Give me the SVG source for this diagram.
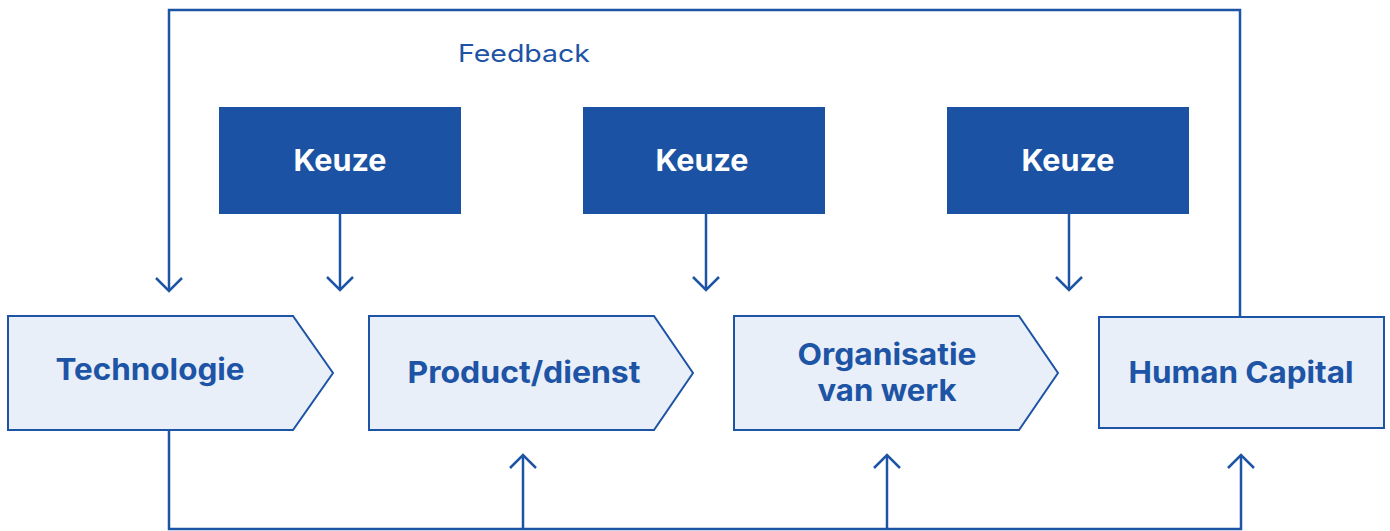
<svg xmlns="http://www.w3.org/2000/svg" width="1390" height="531" viewBox="0 0 1390 531">
<style>
.node{fill:#e8eff8;stroke:#1e54a5;stroke-width:2}
.keuze{fill:#1c52a3}
.lbl{font-family:Inter,"Liberation Sans",sans-serif;font-weight:700;font-size:30px;fill:#1e54a5;text-anchor:middle}
.klbl{font-family:Inter,"Liberation Sans",sans-serif;font-weight:700;font-size:30px;fill:#ffffff;text-anchor:middle}
.line{fill:none;stroke:#1e54a5;stroke-width:2.5}
.fb{font-family:Inter,"Liberation Sans",sans-serif;font-size:24px;fill:#1e54a5}
</style>
<defs>
<marker id="arr" viewBox="-16 -16 32 32" markerWidth="32" markerHeight="32" refX="0" refY="0" orient="auto" markerUnits="userSpaceOnUse">
<path d="M-13,-13 L0,0 L-13,13" fill="none" stroke="#1e54a5" stroke-width="2.5"/>
</marker>
</defs>
<g id="connectors">
<path class="line" d="M1240,317 V10 H169 V291" marker-end="url(#arr)"/>
<path class="line" d="M340,214 V290" marker-end="url(#arr)"/>
<path class="line" d="M706,214 V290" marker-end="url(#arr)"/>
<path class="line" d="M1069,214 V290" marker-end="url(#arr)"/>
<path class="line" d="M169,430 V529 H1241 V455" marker-end="url(#arr)"/>
<path class="line" d="M523,529 V455" marker-end="url(#arr)"/>
<path class="line" d="M887,529 V455" marker-end="url(#arr)"/>
<text class="fb" x="458" y="62" textLength="132" lengthAdjust="spacingAndGlyphs">Feedback</text>
</g>
<g id="keuze1"><rect class="keuze" x="219" y="107" width="242" height="107"/><text class="klbl" x="340" y="171" textLength="93" lengthAdjust="spacingAndGlyphs">Keuze</text></g>
<g id="keuze2"><rect class="keuze" x="583" y="107" width="242" height="107"/><text class="klbl" x="702" y="171" textLength="93" lengthAdjust="spacingAndGlyphs">Keuze</text></g>
<g id="keuze3"><rect class="keuze" x="947" y="107" width="242" height="107"/><text class="klbl" x="1068" y="171" textLength="93" lengthAdjust="spacingAndGlyphs">Keuze</text></g>
<g id="technologie"><path class="node" d="M8,316 H293 L333,373 L293,430 H8 Z"/><text class="lbl" x="150" y="380" textLength="189" lengthAdjust="spacingAndGlyphs">Technologie</text></g>
<g id="product"><path class="node" d="M369,316 H654 L693,373 L654,430 H369 Z"/><text class="lbl" x="524" y="383" textLength="233" lengthAdjust="spacingAndGlyphs">Product/dienst</text></g>
<g id="organisatie"><path class="node" d="M734,316 H1019 L1058,373 L1019,430 H734 Z"/><text class="lbl" x="887" y="365" textLength="179" lengthAdjust="spacingAndGlyphs">Organisatie</text><text class="lbl" x="887" y="401" textLength="139" lengthAdjust="spacingAndGlyphs">van werk</text></g>
<g id="human"><rect class="node" x="1099" y="317" width="285" height="111"/><text class="lbl" x="1241" y="383" textLength="225" lengthAdjust="spacingAndGlyphs">Human Capital</text></g>
</svg>
